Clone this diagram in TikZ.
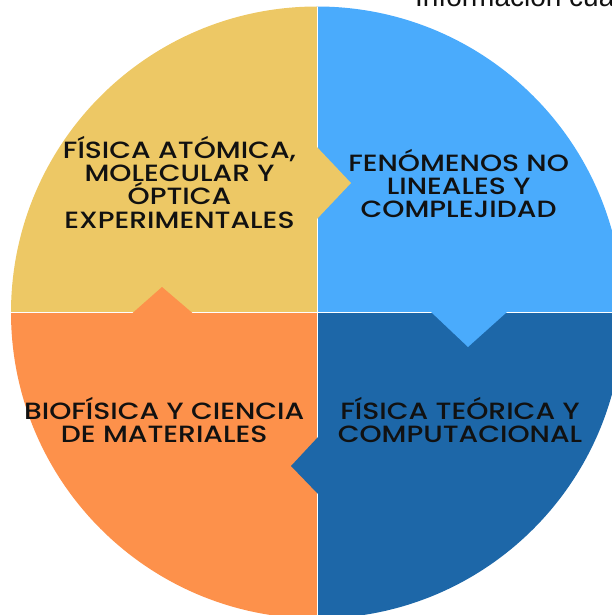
\documentclass[tikz,border=0pt]{standalone}
\usepackage{fontspec}
\setmainfont{Liberation Sans}
\newfontfamily\pop{Poppins Medium}[FakeStretch=1.2]
\definecolor{cyel}{HTML}{EDC865}
\definecolor{cblu}{HTML}{4AABFC}
\definecolor{cdrk}{HTML}{1D67A8}
\definecolor{corg}{HTML}{FD914B}
\definecolor{ctxt}{HTML}{111111}
\tikzset{
  lbl/.style={anchor=base, inner sep=0pt, text=ctxt, font=\pop\fontsize{23.5}{23}\selectfont},
  divider/.style={draw=white, line width=1pt},
}
\begin{document}
\begin{tikzpicture}[x=1pt, y=-1pt]
\useasboundingbox (0,0) rectangle (612,615);
\clip (0,0) rectangle (612,615);
\coordinate (C) at (317,312.5);
\begin{scope}
  \clip (C) circle (306);
  % quadrants
  \fill[cyel] (0,0) rectangle (317,312.5);
  \fill[cblu] (317,0) rectangle (640,312.5);
  \fill[corg] (0,312.5) rectangle (317,640);
  \fill[cdrk] (317,312.5) rectangle (640,640);
  % dividers
  \draw[divider] (317,0) -- (317,640);
  \draw[divider] (0,312.5) -- (640,312.5);
  % arrow notches
  \fill[cyel] (316,146) -- (351,183) -- (316,220) -- cycle;
  \fill[cblu] (431,312) -- (468,347) -- (507,312) -- cycle;
  \fill[cdrk] (318,437) -- (291,466) -- (318,494) -- cycle;
  \fill[corg] (132,313.5) -- (162,287) -- (193,313.5) -- cycle;
\end{scope}
% texts
\node[lbl] (y1) at (179.5,158.3) {FÍSICA ATÓMICA,};
\node[lbl] (y2) at (179.5,181.6) {MOLECULAR Y};
\node[lbl] (y3) at (179.5,204.9) {ÓPTICA};
\node[lbl] (y4) at (179.5,228.2) {EXPERIMENTALES};
\node[lbl] (b1) at (458.6,171.5) {FENÓMENOS NO};
\node[lbl] (b2) at (458.6,194.5) {LINEALES Y};
\node[lbl] (b3) at (458.6,217.7) {COMPLEJIDAD};
\node[lbl] (o1) at (164.2,419.8) {BIOFÍSICA Y CIENCIA};
\node[lbl] (o2) at (164.2,442.5) {DE MATERIALES};
\node[lbl] (d1) at (460,419.8) {FÍSICA TEÓRICA Y};
\node[lbl] (d2) at (460,442.6) {COMPUTACIONAL};
\node[anchor=base west, inner sep=0pt, font=\fontsize{28}{30}\selectfont, text=ctxt] (top) at (415,7) {Información cuantitativa};
\end{tikzpicture}
\end{document}
